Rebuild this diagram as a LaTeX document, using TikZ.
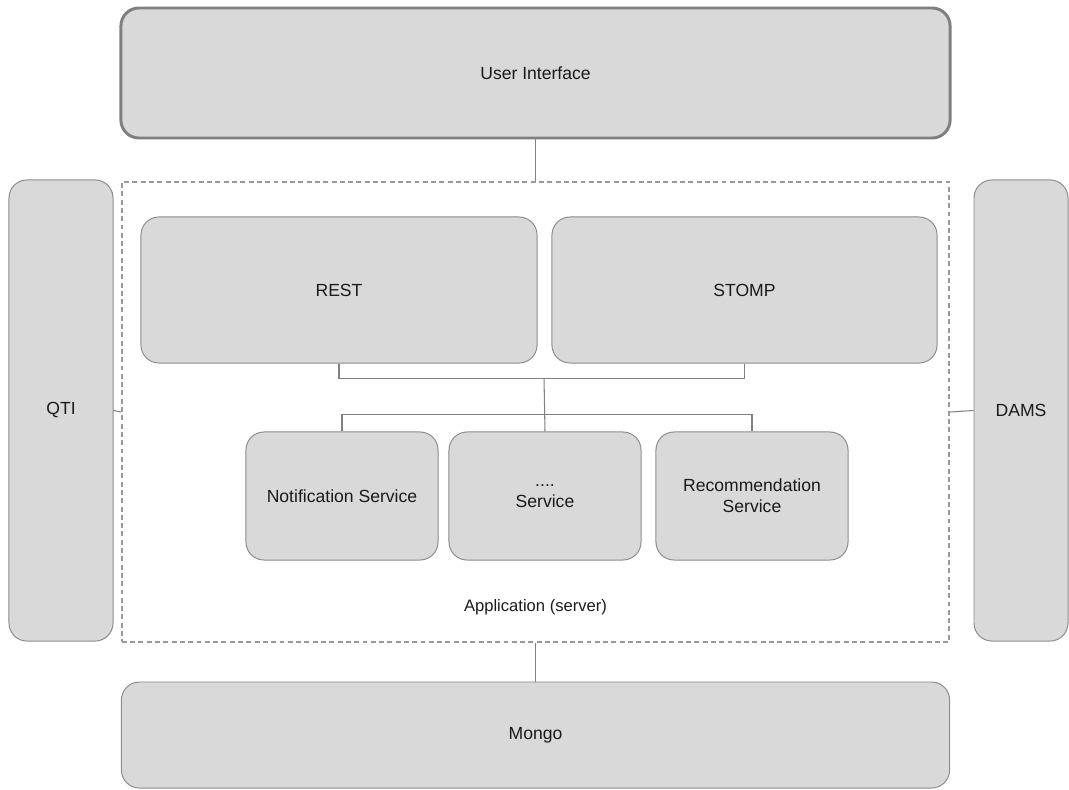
\documentclass[tikz,border=0pt]{standalone}
\usepackage{fontspec}
\setmainfont{Liberation Sans}
\usetikzlibrary{positioning}
\definecolor{boxfill}{HTML}{D9D9D9}
\definecolor{boxline}{HTML}{8C8C8C}
\definecolor{uiline}{HTML}{7F7F7F}
\definecolor{dashline}{HTML}{999999}
\definecolor{wireline}{HTML}{808080}
\definecolor{txt}{HTML}{1A1A1A}

\begin{document}
\begin{tikzpicture}[
  x=0.025cm, y=-0.025cm,
  every node/.style={text=txt, font=\fontsize{12.5}{15}\selectfont},
  block/.style={draw=boxline, fill=boxfill, line width=0.7pt, rounded corners=0.45cm, inner sep=0pt, align=center},
  wire/.style={draw=wireline, line width=0.75pt},
]

% Frame
\useasboundingbox (0,0) rectangle (1069,789);

% Top layer
\node[block, draw=uiline, line width=2.1pt, minimum width=20.725cm, minimum height=3.25cm] (ui) at (535.5,73) {User Interface};

% Application boundary
\node[draw=dashline, line width=1.2pt, dash pattern=on 3.5pt off 2.4pt, minimum width=20.675cm, minimum height=11.5cm, inner sep=0pt] (app) at (535.5,412) {};
\node[font=\fontsize{11.8}{14}\selectfont] (applbl) at (535.5,607) {Application (server)};

% Side systems
\node[block, minimum width=2.6cm, minimum height=11.525cm] (qti) at (61,410.5) {QTI};
\node[block, minimum width=2.35cm, minimum height=11.525cm] (dams) at (1021,410.5) {DAMS};

% Interfaces
\node[block, minimum width=9.9cm, minimum height=3.65cm] (rest) at (339,290) {REST};
\node[block, minimum width=9.625cm, minimum height=3.65cm] (stomp) at (744.5,290) {STOMP};

% Services
\node[block, minimum width=4.8cm, minimum height=3.2cm] (notif) at (342,496) {Notification Service};
\node[block, minimum width=4.8cm, minimum height=3.2cm] (more) at (545,496) {....\\Service};
\node[block, minimum width=4.8cm, minimum height=3.2cm] (recom) at (752,496) {Recommendation\\Service};

% Storage
\node[block, minimum width=20.7cm, minimum height=2.65cm] (mongo) at (535.5,735) {Mongo};

% Connectors
\draw[wire] (ui.south) -- (app.north);
\draw[wire] (app.south) -- (mongo.north);
\draw[wire] (qti.east) -- (app.west);
\draw[wire] (dams.west) -- (app.east);
\draw[wire] (rest.south) -- ++(0,15) -| (stomp.south);
\coordinate (hub) at (544,378);
\draw[wire] (hub) -- (more.north);
\draw[wire] (notif.north) -- ++(0,-17) -| (recom.north);

\end{tikzpicture}
\end{document}
